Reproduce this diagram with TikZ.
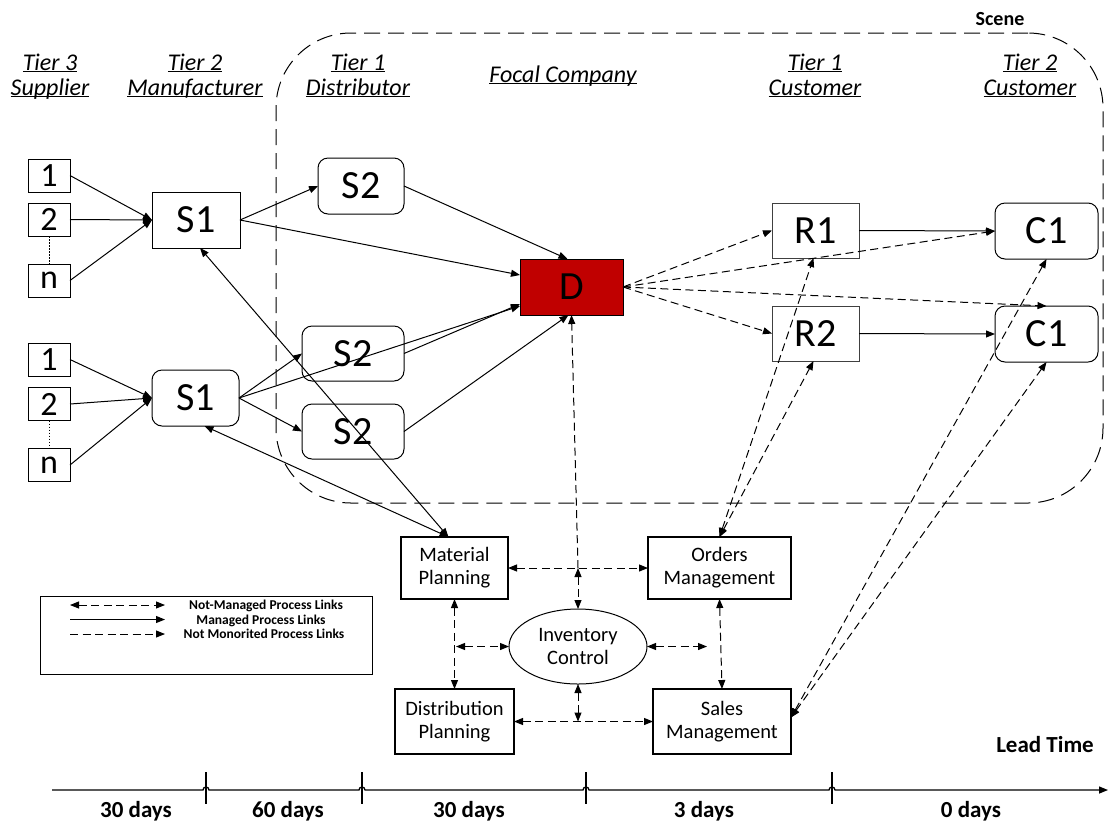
\documentclass[tikz,border=0pt]{standalone}
\usepackage{fontspec}
\setmainfont{Carlito}
\usetikzlibrary{arrows.meta,shapes.geometric,calc}
\newcommand\myul[1]{\underline{\smash{#1}}}
\begin{document}
\begin{tikzpicture}[x=1pt,y=-1pt,
  >={Triangle[length=9pt,width=7pt]},
  every node/.style={inner sep=0pt,outer sep=0pt},
  digbox/.style={draw,line width=1pt,minimum width=42pt,minimum height=33pt,font=\fontsize{34}{34}\selectfont},
  sqbox/.style={draw,line width=1pt,minimum height=56pt,font=\fontsize{40}{40}\selectfont},
  rndbox/.style={sqbox,rounded corners=10pt},
  procbox/.style={draw,line width=2pt,align=center,font=\fontsize{20.5}{23}\selectfont},
  hdr/.style={anchor=base,font=\fontsize{24}{26}\selectfont\itshape},
  boldlbl/.style={anchor=base,font=\fontsize{23}{26}\selectfont\bfseries},
  scenelbl/.style={anchor=base,font=\fontsize{20}{22}\selectfont\bfseries},
  legtxt/.style={anchor=base,font=\fontsize{13.5}{14}\selectfont\bfseries},
  managed/.style={line width=1pt,->},
  managedboth/.style={line width=1pt,<->},
  monitor/.style={line width=1pt,dash pattern=on 8pt off 4.5pt,->},
  notman/.style={line width=1pt,dash pattern=on 8pt off 4.5pt,<->},
  scenefr/.style={draw,line width=1pt,dash pattern=on 16pt off 8pt,rounded corners=75pt}
]
\useasboundingbox (0,0) rectangle (1110,823);

% scene frame
\node[scenefr,minimum width=827pt,minimum height=470pt] (scene) at (689.5,268) {};
\node[scenelbl] (scenel) at (1000,25) {Scene};

% headers
\node[hdr] (h3a) at (50,70) {\myul{Tier 3}};
\node[hdr] (h3b) at (50,95) {\myul{Supplier}};
\node[hdr] (h2a) at (195,70) {\myul{Tier 2}};
\node[hdr] (h2b) at (195,95) {\myul{Manufacturer}};
\node[hdr] (h1a) at (358,70) {\myul{Tier 1}};
\node[hdr] (h1b) at (358,95) {\myul{Distributor}};
\node[hdr] (hf) at (563,82) {\myul{Focal Company}};
\node[hdr] (hc1a) at (815,70) {\myul{Tier 1}};
\node[hdr] (hc1b) at (815,95) {\myul{Customer}};
\node[hdr] (hc2a) at (1030,70) {\myul{Tier 2}};
\node[hdr] (hc2b) at (1030,95) {\myul{Customer}};

% suppliers
\node[digbox] (ta1) at (49,175.5) {1};
\node[digbox] (ta2) at (49,219.5) {2};
\node[digbox] (tan) at (49,280.5) {n};
\node[digbox] (tb1) at (49,359.5) {1};
\node[digbox] (tb2) at (49,404) {2};
\node[digbox] (tbn) at (49,465) {n};
\draw[line width=0.8pt,dash pattern=on 1.5pt off 1.5pt] (ta2) -- (tan);
\draw[line width=0.8pt,dash pattern=on 1.5pt off 1.5pt] (tb2) -- (tbn);

% main nodes
\node[sqbox,minimum width=88pt] (S1a) at (196,220) {S1};
\node[rndbox,minimum width=87pt] (S1b) at (195.5,398) {S1};
\node[rndbox,minimum width=86pt] (S2a) at (361,186) {S2};
\node[rndbox,minimum width=102pt,minimum height=55pt] (S2b) at (353,353.5) {S2};
\node[rndbox,minimum width=102pt,minimum height=55pt] (S2c) at (353,431.5) {S2};
\node[sqbox,minimum width=103pt,fill={rgb,255:red,192;green,0;blue,0}] (D) at (571.5,287) {D};
\node[sqbox,draw=black!75,minimum width=87pt,minimum height=55pt] (R1) at (815.5,230.5) {R1};
\node[sqbox,draw=black!75,minimum width=87pt,minimum height=55pt] (R2) at (815.5,333.5) {R2};
\node[rndbox,minimum width=103pt] (C1a) at (1046.5,231) {C1};
\node[rndbox,minimum width=103pt] (C1b) at (1046.5,334) {C1};

% process nodes
\node[procbox,minimum width=107pt,minimum height=62pt] (MP) at (454.5,568) {Material\\Planning};
\node[procbox,minimum width=143pt,minimum height=62pt] (OM) at (719.5,568) {Orders\\Management};
\node[draw,ellipse,line width=1pt,minimum width=138pt,minimum height=75pt,align=center,font=\fontsize{20.5}{23}\selectfont] (IC) at (578,646.5) {Inventory\\Control};
\node[procbox,minimum width=119pt,minimum height=65pt] (DP) at (454.5,721.5) {Distribution\\Planning};
\node[procbox,minimum width=138pt,minimum height=65pt] (SM) at (722,721.5) {Sales\\Management};

% managed links
\draw[managed] (ta1.east) -- (S1a.west);
\draw[managed] (ta2.east) -- (S1a.west);
\draw[managed] (tan.east) -- (S1a.west);
\draw[managed] (tb1.east) -- (S1b.west);
\draw[managed] (tb2.east) -- (S1b.west);
\draw[managed] (tbn.east) -- (S1b.west);
\draw[managed] (S1a.east) -- (S2a.west);
\draw[managed] (S1a.east) -- ([yshift=12pt]D.west);
\draw[managed] (S2a.east) -- ([xshift=-4pt]D.north);
\draw[managed] (S1b.east) -- (S2b.west);
\draw[managed] (S1b.east) -- (S2c.west);
\draw[managed] (S1b.east) -- ([yshift=-19pt]D.west);
\draw[managed] (S2b.east) -- ([yshift=-17pt]D.west);
\draw[managed] (S2c.east) -- ([xshift=-3pt]D.south);
\draw[managed] (R1.east) -- (C1a.west);
\draw[managed] (R2.east) -- (C1b.west);
\draw[managedboth] ([xshift=4pt]S1a.south) -- ([xshift=-6pt]MP.north);
\draw[managedboth] ([xshift=9pt]S1b.south) -- ([xshift=-6pt]MP.north);

% not monitored links
\draw[monitor] (D.east) -- (R1.west);
\draw[monitor] (D.east) -- (R2.west);
\draw[monitor] (D.east) -- (C1a.west);
\draw[monitor] (D.east) -- (C1b.north);
\coordinate (J1) at (578,568);
\draw[monitor] (J1) -- (D.south);

% not managed links
\draw[notman] (MP.east) -- (OM.west);
\draw[notman] (J1) -- (IC.north);
\draw[notman] (MP.south) -- (DP.north);
\coordinate (J2) at (456,646.5);
\draw[notman] (J2) -- (IC.west);
\coordinate (J3) at (707,646.5);
\draw[notman] (IC.east) -- (J3);
\draw[notman] (OM.south) -- (SM.north);
\draw[notman] (DP.east) -- (SM.west);
\coordinate (J4) at (578,721.5);
\draw[notman] (IC.south) -- (J4);
\draw[notman] (OM.north) -- ([xshift=-2pt]R1.south);
\draw[notman] (OM.north) -- ([xshift=-2pt]R2.south);
\draw[notman] ([yshift=4pt]SM.east) -- (C1a.south);
\draw[notman] ([yshift=4pt]SM.east) -- (C1b.south);

% legend
\node[draw,line width=1pt,minimum width=332pt,minimum height=78pt] (leg) at (206,635) {};
\coordinate (l1a) at (70,605); \coordinate (l1b) at (165,605);
\coordinate (l2a) at (70,619.5); \coordinate (l2b) at (165,619.5);
\coordinate (l3a) at (70,634); \coordinate (l3b) at (165,634);
\draw[notman] (l1a) -- (l1b);
\draw[managed] (l2a) -- (l2b);
\draw[monitor] (l3a) -- (l3b);
\node[legtxt] (lt1) at (266,609.5) {Not-Managed Process Links};
\node[legtxt] (lt2) at (261,624) {Managed Process Links};
\node[legtxt] (lt3) at (264,638.5) {Not Monorited Process Links};

% timeline
\coordinate (tlA) at (52,790);
\coordinate (tlB) at (1108,790);
\draw[line width=1.3pt,->] (tlA) -- (203,790) arc[start angle=180,end angle=360,radius=3]
  -- (359,790) arc[start angle=180,end angle=360,radius=3]
  -- (583,790) arc[start angle=180,end angle=360,radius=3]
  -- (829,790) arc[start angle=180,end angle=360,radius=3] -- (tlB);
\foreach \tx/\tn in {206/k1,362/k2,586/k3,832/k4}{
  \coordinate (\tn a) at (\tx,772);
  \coordinate (\tn b) at (\tx,804);
  \draw[line width=1.3pt] (\tn a) -- (\tn b);
}
\node[boldlbl] (lead) at (1045,752) {Lead Time};
\node[boldlbl] (d1) at (136,817) {30 days};
\node[boldlbl] (d2) at (288,817) {60 days};
\node[boldlbl] (d3) at (469,817) {30 days};
\node[boldlbl] (d4) at (704,817) {3 days};
\node[boldlbl] (d5) at (971,817) {0 days};
\end{tikzpicture}
\end{document}
